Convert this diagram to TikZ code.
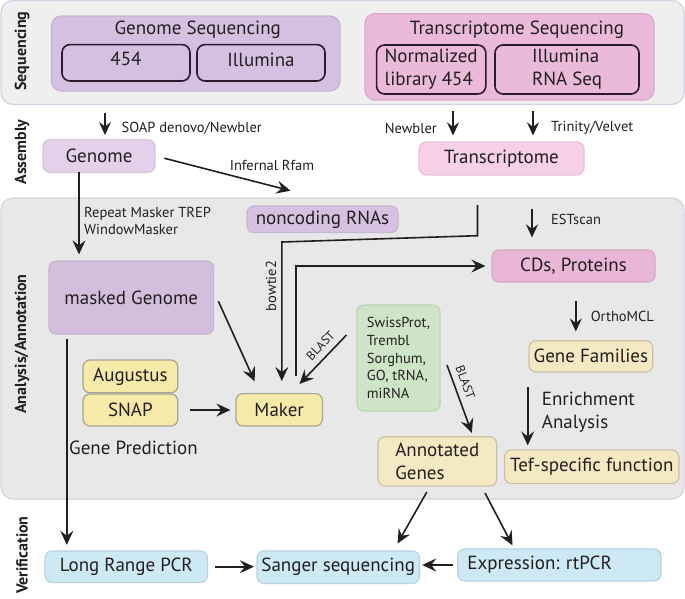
\documentclass[tikz,border=0pt]{standalone}
\usepackage{fontspec}
\setmainfont{PT Sans}
\usetikzlibrary{arrows.meta}
\frenchspacing
\newcommand\fbig{\fontsize{19}{23}\selectfont}
\newcommand\fsmall{\fontsize{14.5}{17.6}\selectfont}
\newcommand\fblast{\fontsize{12.5}{14}\selectfont}
\newcommand\fside{\fontsize{16}{18}\selectfont\bfseries}
\definecolor{bandA}{HTML}{EFEFEF}
\definecolor{bandB}{HTML}{E8E8E8}
\definecolor{bandline}{HTML}{DCCFE4}
\definecolor{gsfill}{HTML}{D5C0E1}
\definecolor{gsdraw}{HTML}{C6B3D3}
\definecolor{tsfill}{HTML}{EBB9DA}
\definecolor{tsdraw}{HTML}{D9A9C9}
\definecolor{seqline}{HTML}{2B1A2E}
\definecolor{genfill}{HTML}{E5D0EB}
\definecolor{gendraw}{HTML}{D6C5DD}
\definecolor{trfill}{HTML}{F7CFE7}
\definecolor{trdraw}{HTML}{E8C4DA}
\definecolor{ncfill}{HTML}{D7C1E0}
\definecolor{ncdraw}{HTML}{C9B6D2}
\definecolor{mgfill}{HTML}{D4BEDC}
\definecolor{mgdraw}{HTML}{C6B3CF}
\definecolor{cdsfill}{HTML}{E9B6D8}
\definecolor{cdsdraw}{HTML}{D5AAC7}
\definecolor{grfill}{HTML}{CFE5C7}
\definecolor{grdraw}{HTML}{BCD2B5}
\definecolor{ylfill}{HTML}{F4E9C2}
\definecolor{yldraw}{HTML}{C9C1A6}
\definecolor{ydfill}{HTML}{F5EAA8}
\definecolor{yddraw}{HTML}{A9A391}
\definecolor{blfill}{HTML}{CDE9F3}
\definecolor{bldraw}{HTML}{B9D4DE}
\definecolor{ink}{HTML}{231F20}
\begin{document}
\begin{tikzpicture}[x=1pt,y=-1pt,
  every node/.style={text=ink},
  band/.style={draw=bandline, line width=1.2pt, rounded corners=12pt, inner sep=0pt},
  box/.style={line width=1.2pt, rounded corners=7pt, inner sep=0pt, font=\fbig},
  seqbox/.style={draw=seqline, line width=1.6pt, rounded corners=8pt, inner sep=0pt, font=\fbig},
  side/.style={font=\fside, rotate=90, inner sep=0pt},
  lbl/.style={font=\fsmall, inner sep=0pt},
  blastlbl/.style={font=\fblast, inner sep=0pt},
  arr/.style={draw=ink, line width=1.6pt, -{Stealth[length=14pt,width=13pt,inset=5pt]}},
  arrs/.style={draw=ink, line width=1.6pt, -{Stealth[length=13pt,width=12pt,inset=4.5pt]}}
]
\useasboundingbox (0,0) rectangle (685,598);
\fill[white] (0,0) rectangle (685,598);

% bands
\node[band, fill=bandA, minimum width=683pt, minimum height=104pt] (seqband) at (342.5,52.5) {};
\node[band, fill=bandB, minimum width=683pt, minimum height=301pt] (anaband) at (342.5,348.5) {};

% side labels
\node[side] (lseq) at (22,51) {Sequencing};
\node[side] (lasm) at (22,152) {Assembly};
\node[side] (lana) at (22,344) {Analysis/Annotation};
\node[side] (lver) at (22,555) {Verification};

% sequencing
\node[box, draw=gsdraw, fill=gsfill, rounded corners=10pt, minimum width=288.5pt, minimum height=75pt] (gs) at (195.75,53.5) {};
\node[font=\fbig, inner sep=0pt] (gstitle) at (197.7,30) {Genome Sequencing};
\node[seqbox, minimum width=128pt, minimum height=36.4pt, text depth=8pt] (g454) at (126,62.8) {454};
\node[seqbox, minimum width=128pt, minimum height=36.4pt, text depth=7pt] (gill) at (261,62.8) {Illumina};

\node[box, draw=tsdraw, fill=tsfill, rounded corners=10pt, minimum width=289pt, minimum height=86.3pt] (ts) at (509.5,56.85) {};
\node[font=\fbig, inner sep=0pt] (tstitle) at (517,30) {Transcriptome Sequencing};
\node[seqbox, minimum width=109.2pt, minimum height=49pt, align=left] (tnorm) at (431.2,69.5) {Normalized\\library 454};
\node[seqbox, minimum width=144pt, minimum height=49pt, align=left] (till) at (567,69.5) {Illumina\\RNA Seq};

% assembly
\node[box, draw=gendraw, fill=genfill, minimum width=112pt, minimum height=32.8pt] (genome) at (99,156) {Genome};
\node[box, draw=trdraw, fill=trfill, minimum width=165pt, minimum height=33pt] (trans) at (501.5,158.5) {Transcriptome};

\coordinate (s1) at (105,113);
\draw[arrs, shorten >=4pt] (s1) -- (s1 |- genome.north);
\node[lbl, anchor=west] (lsoap) at (121.5,128) {SOAP denovo/Newbler};
\coordinate (n1) at (453,111);
\draw[arrs, shorten >=6pt] (n1) -- (n1 |- trans.north);
\node[lbl, anchor=east] (lnewb) at (437,128) {Newbler};
\coordinate (t1) at (533,111);
\draw[arrs, shorten >=6pt] (t1) -- (t1 |- trans.north);
\node[lbl, anchor=west] (ltrin) at (551,128) {Trinity/Velvet};

% analysis boxes
\node[box, draw=ncdraw, fill=ncfill, minimum width=151pt, minimum height=26.6pt] (nc) at (322.5,219.3) {noncoding RNAs};
\node[box, draw=mgdraw, fill=mgfill, minimum width=164.6pt, minimum height=73pt] (mg) at (131.3,297.5) {masked Genome};
\node[box, draw=cdsdraw, fill=cdsfill, minimum width=163pt, minimum height=32pt] (cds) at (573.5,266) {CDs, Proteins};
\node[box, draw=grdraw, fill=grfill, minimum width=83pt, minimum height=106pt, font=\fsmall, align=left] (db) at (398.5,358) {SwissProt,\\Trembl\\Sorghum,\\GO, tRNA,\\miRNA};
\node[box, draw=yldraw, fill=ylfill, minimum width=123.7pt, minimum height=31.3pt] (gf) at (590.9,356.3) {Gene Families};
\node[box, draw=yldraw, fill=ylfill, minimum width=174.4pt, minimum height=33.6pt] (tef) at (591.8,466.8) {Tef-specific function};
\node[box, draw=yldraw, fill=ylfill, minimum width=118.7pt, minimum height=49.3pt, align=left] (ann) at (437.3,461.4) {Annotated\\Genes};
\node[box, draw=yddraw, fill=ydfill, minimum width=94.8pt, minimum height=32.8pt] (aug) at (130.4,376.4) {Augustus};
\node[box, draw=yddraw, fill=ydfill, minimum width=94.8pt, minimum height=32pt] (snap) at (130.4,410) {SNAP};
\node[box, draw=yddraw, fill=ydfill, minimum width=86.4pt, minimum height=32.4pt] (maker) at (279.2,409.8) {Maker};
\node[font=\fbig, inner sep=0pt, anchor=west] (lgp) at (69,448) {Gene Prediction};

% verification boxes
\node[box, draw=bldraw, fill=blfill, minimum width=162.5pt, minimum height=31.4pt] (lrpcr) at (126.3,566.7) {Long Range PCR};
\node[box, draw=bldraw, fill=blfill, minimum width=162.4pt, minimum height=32.5pt] (sanger) at (338.2,567.2) {Sanger sequencing};
\node[box, draw=bldraw, fill=blfill, text width=184pt, inner xsep=9.6pt, align=left, minimum height=32pt] (expr) at (559.4,565) {Expression: rtPCR};

% connectors
\coordinate (ncend) at (290.5,190.7);
\draw[arr, shorten <=9pt] (genome.east) -- (ncend);
\node[lbl] (linf) at (272,165) {Infernal Rfam};

\coordinate (gmx) at (79,172.4);
\draw[arr, shorten >=6pt] (gmx) -- (gmx |- mg.north);
\node[lbl, anchor=west, align=left] (lrep) at (84,221) {Repeat Masker TREP\\WindowMasker};

\coordinate (e1) at (532,209);
\draw[arrs, shorten >=12pt] (e1) -- (e1 |- cds.north);
\node[lbl, anchor=west] (lest) at (551,219) {ESTscan};

\coordinate (b1) at (477.5,205);
\coordinate (b2) at (477.5,235.7);
\coordinate (b3) at (281.8,242);
\draw[arr, shorten >=12pt] (b1) -- (b2) -- (b3) -- (b3 |- maker.north);
\node[lbl, rotate=90] (lbow) at (271,286) {bowtie2};

\coordinate (c1) at (295.8,376);
\draw[arr, shorten >=6pt] (c1) |- (cds.west);

\coordinate (m1) at (218.4,301.3);
\coordinate (m2) at (254.7,381.4);
\draw[arr] (m1) -- (m2);

\coordinate (bl1) at (346.5,335);
\coordinate (bl2) at (299.5,384);
\draw[arr] (bl1) -- (bl2);
\node[blastlbl, rotate=46] (lbl1) at (320.5,345.5) {BLAST};

\coordinate (bl3) at (447,365);
\coordinate (bl4) at (471.8,432.9);
\draw[arr] (bl3) -- (bl4);
\node[blastlbl, rotate=-70] (lbl2) at (465.5,382) {BLAST};

\coordinate (o1) at (575.8,301);
\draw[arrs, shorten >=8.6pt] (o1) -- (o1 |- gf.north);
\node[lbl, anchor=west] (lortho) at (590.6,316.5) {OrthoMCL};

\coordinate (en) at (527.7,387);
\draw[arr, shorten >=4pt] (en) -- (en |- tef.north);
\node[font=\fbig, anchor=west, align=left, inner sep=0pt] (lenr) at (541.7,412) {Enrichment\\Analysis};

\draw[arr, shorten <=12pt, shorten >=5pt] (snap.east) -- (snap.east -| maker.west);

\coordinate (lr) at (66.8,338.7);
\draw[arr, shorten >=5.6pt] (lr) -- (lr |- lrpcr.north);

\draw[arr, shorten <=6.5pt, shorten >=2.5pt] (lrpcr.east) -- (lrpcr.east -| sanger.west);
\draw[arr, shorten <=4.3pt, shorten >=2.2pt] (expr.west) -- (expr.west -| sanger.east);

\coordinate (a1) at (426.8,492);
\coordinate (a2) at (397.5,543.5);
\draw[arr] (a1) -- (a2);
\coordinate (a3) at (485,493);
\coordinate (a4) at (512.5,545.4);
\draw[arr] (a3) -- (a4);
\end{tikzpicture}
\end{document}
